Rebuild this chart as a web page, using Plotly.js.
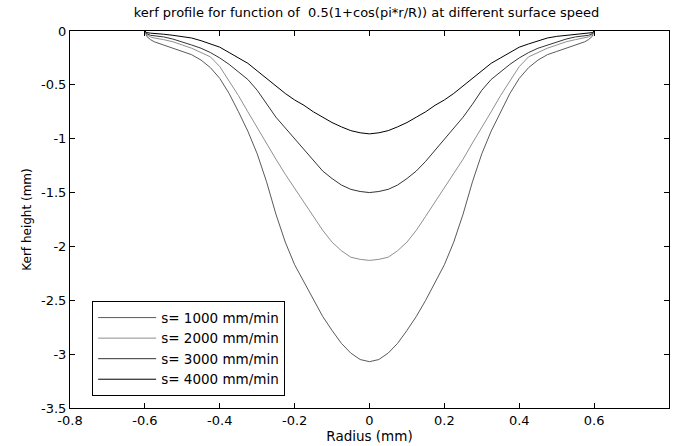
<!DOCTYPE html>
<html>
<head>
<meta charset="utf-8">
<script src="https://cdn.plot.ly/plotly-3.0.1.min.js"></script>
<style>html,body{margin:0;padding:0;background:#fff;}#plot{width:675px;height:446px;}</style>
</head>
<body>
<div id="plot"></div>
<script>
var radius = [-0.6, -0.595, -0.585, -0.575, -0.55, -0.525, -0.5, -0.475, -0.45, -0.425, -0.4, -0.375, -0.35, -0.325,
              -0.3, -0.275, -0.25, -0.225, -0.2, -0.175, -0.15, -0.125, -0.1, -0.075, -0.05, -0.025, 0,
              0.025, 0.05, 0.075, 0.1, 0.125, 0.15, 0.175, 0.2, 0.225, 0.25, 0.275, 0.3,
              0.325, 0.35, 0.375, 0.4, 0.425, 0.45, 0.475, 0.5, 0.525, 0.55, 0.575, 0.585, 0.595, 0.6];
var kerf1000 = [0, -0.05, -0.08, -0.10, -0.13, -0.16, -0.19, -0.22, -0.27, -0.34, -0.44, -0.58, -0.75, -0.93,
                -1.14, -1.40, -1.70, -1.96, -2.17, -2.33, -2.50, -2.65, -2.78, -2.90, -2.99, -3.05, -3.07,
                -3.05, -2.99, -2.90, -2.78, -2.65, -2.50, -2.33, -2.17, -1.96, -1.70, -1.40, -1.14,
                -0.93, -0.75, -0.58, -0.44, -0.34, -0.27, -0.22, -0.19, -0.16, -0.13, -0.10, -0.08, -0.05, 0];
var kerf2000 = [0, -0.035, -0.055, -0.065, -0.08, -0.10, -0.13, -0.16, -0.20, -0.24, -0.33, -0.46, -0.60, -0.75,
                -0.90, -1.04, -1.19, -1.33, -1.46, -1.59, -1.72, -1.85, -1.96, -2.04, -2.10, -2.12, -2.13,
                -2.12, -2.10, -2.04, -1.96, -1.85, -1.72, -1.59, -1.46, -1.33, -1.19, -1.04, -0.90,
                -0.75, -0.60, -0.46, -0.33, -0.24, -0.20, -0.16, -0.13, -0.10, -0.08, -0.065, -0.055, -0.035, 0];
var kerf3000 = [0, -0.025, -0.04, -0.045, -0.055, -0.075, -0.10, -0.13, -0.16, -0.20, -0.25, -0.31, -0.38, -0.45,
                -0.55, -0.68, -0.80, -0.90, -1.00, -1.11, -1.21, -1.30, -1.37, -1.43, -1.47, -1.49, -1.50,
                -1.49, -1.47, -1.43, -1.37, -1.30, -1.21, -1.11, -1.00, -0.90, -0.80, -0.68, -0.55,
                -0.45, -0.38, -0.31, -0.25, -0.20, -0.16, -0.13, -0.10, -0.075, -0.055, -0.045, -0.04, -0.025, 0];
var kerf4000 = [0, -0.015, -0.02, -0.022, -0.03, -0.04, -0.05, -0.065, -0.09, -0.12, -0.15, -0.20, -0.25, -0.30,
                -0.37, -0.44, -0.51, -0.58, -0.64, -0.69, -0.75, -0.80, -0.85, -0.89, -0.925, -0.945, -0.955,
                -0.945, -0.925, -0.89, -0.85, -0.80, -0.75, -0.69, -0.64, -0.58, -0.51, -0.44, -0.37,
                -0.30, -0.25, -0.20, -0.15, -0.12, -0.09, -0.065, -0.05, -0.04, -0.03, -0.022, -0.02, -0.015, 0];
var seriesNames = ['s= 1000 mm/min', 's= 2000 mm/min', 's= 3000 mm/min', 's= 4000 mm/min'];
var seriesData = [kerf1000, kerf2000, kerf3000, kerf4000];
var seriesColors = ['#5a5a5a', '#8f8f8f', '#333333', '#000000'];

var traces = seriesData.map(function (ys, i) {
  return {
    x: radius, y: ys, type: 'scatter', mode: 'lines', name: seriesNames[i],
    line: {color: seriesColors[i], width: 1}
  };
});

var fontFam = 'DejaVu Sans, Arial, sans-serif';
var layout = {
  width: 675, height: 446,
  margin: {l: 70, r: 6, t: 31, b: 38, pad: 0},
  paper_bgcolor: '#ffffff', plot_bgcolor: '#ffffff',
  font: {family: fontFam, size: 12, color: '#000'},
  title: {text: 'kerf profile for function of  0.5(1+cos(pi*r/R)) at different surface speed',
          font: {family: fontFam, size: 13, color: '#000'}, x: 0.543, xanchor: 'center', y: 0.972, yanchor: 'middle'},
  xaxis: {
    range: [-0.8, 0.8], tickvals: [-0.8, -0.6, -0.4, -0.2, 0, 0.2, 0.4, 0.6, 0.8],
    ticktext: ['-0.8', '-0.6', '-0.4', '-0.2', '0', '0.2', '0.4', '0.6', '0.8'],
    ticks: 'inside', ticklen: 5, tickcolor: '#000', tickwidth: 1,
    showline: true, linecolor: '#000', linewidth: 1, mirror: 'ticks',
    showgrid: false, zeroline: false,
    tickfont: {family: fontFam, size: 13, color: '#000'},
    title: {text: 'Radius (mm)', font: {family: fontFam, size: 13.5, color: '#000'}, standoff: 2}
  },
  yaxis: {
    range: [-3.5, 0], tickvals: [-3.5, -3, -2.5, -2, -1.5, -1, -0.5, 0],
    ticktext: ['-3.5', '-3', '-2.5', '-2', '-1.5', '-1', '-0.5', '0'],
    ticks: 'inside', ticklen: 5, tickcolor: '#000', tickwidth: 1,
    showline: true, linecolor: '#000', linewidth: 1, mirror: 'ticks',
    showgrid: false, zeroline: false,
    tickfont: {family: fontFam, size: 13, color: '#000'},
    title: {text: 'Kerf height (mm)', font: {family: fontFam, size: 12, color: '#000'}, standoff: 6}
  },
  showlegend: true,
  legend: {
    x: 0.037, y: 0.283, xanchor: 'left', yanchor: 'top',
    bgcolor: '#ffffff', bordercolor: '#000', borderwidth: 1,
    font: {family: fontFam, size: 13.5, color: '#000'},
    tracegroupgap: 0, itemwidth: 58
  }
};

Plotly.newPlot('plot', traces, layout, {displayModeBar: false, staticPlot: true});
</script>
</body>
</html>
